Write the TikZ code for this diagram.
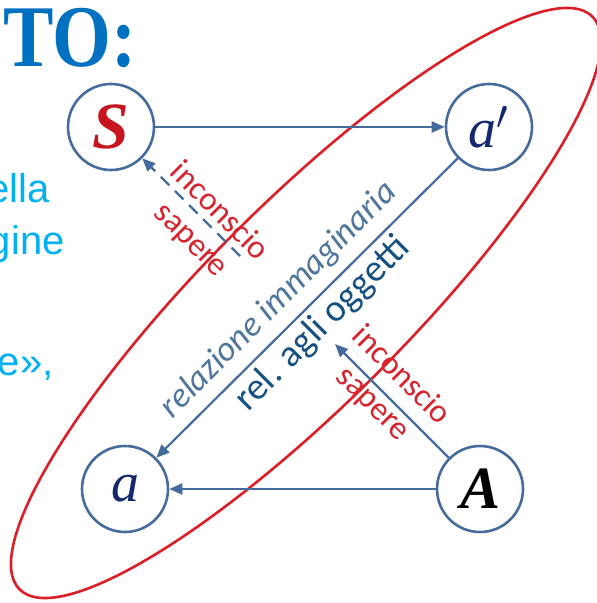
\documentclass[tikz,border=0pt]{standalone}
\usepackage{fontspec}
\usepackage{graphicx}
\setmainfont{Liberation Serif}
\newfontfamily\calib{Carlito}
\newfontfamily\arialf{Liberation Sans}
\usetikzlibrary{arrows.meta}
\definecolor{nodeblue}{RGB}{68,107,155}
\definecolor{ellred}{RGB}{220,30,38}
\definecolor{titleblue}{RGB}{0,112,192}
\definecolor{cyantext}{RGB}{0,176,240}
\definecolor{relgray}{RGB}{80,118,155}
\definecolor{relnavy}{RGB}{22,80,128}
\definecolor{labred}{RGB}{215,35,45}
\definecolor{anavy}{RGB}{20,40,110}
\definecolor{sred}{RGB}{200,20,30}
\begin{document}
\begin{tikzpicture}[x=0.5pt,y=-0.5pt,
  vert/.style={circle,draw=nodeblue,line width=1.3pt,minimum size=43pt,inner sep=0pt},
  conn/.style={draw=nodeblue,line width=1.1pt,-{Triangle[length=6.5pt,width=5.5pt]}},
  redlab/.style={text=labred,font=\calib\fontsize{16.5}{20}\selectfont,align=center,rotate=-45,inner sep=0pt},
  lefttxt/.style={text=cyantext,font=\arialf\fontsize{20}{24}\selectfont,anchor=base east,inner sep=0pt}]
\useasboundingbox (0,0) rectangle (597,603);
\clip (0,0) rectangle (597,603);
% red ellipse
\draw[ellred,line width=1.3pt,rotate around={45:(306,303)}] (306,303) ellipse [x radius=405, y radius=100];
% title fragment
\node[anchor=base west,inner sep=0pt,text=titleblue,font=\fontsize{44}{48}\selectfont\bfseries] (title) at (3,67) {\scalebox{0.86}[1]{TO:}};
% left text fragments
\node[lefttxt] (t1) at (50,203) {ella};
\node[lefttxt] (t2) at (65,255) {gine};
\node[lefttxt] (t3) at (54,375) {e»,};
% circles
\node[vert] (S) at (111,127) {\fontsize{33}{36}\selectfont\color{sred}\bfseries\itshape S};
\node[vert] (ap) at (489,127) {\fontsize{28}{32}\selectfont\color{anavy}\itshape a$'$};
\node[vert] (a) at (125,489) {\fontsize{28}{32}\selectfont\color{anavy}\itshape a};
\node[vert] (A) at (480,489) {\fontsize{30}{34}\selectfont\color{black}\bfseries\itshape A};
% connectors
\coordinate (dstart) at (240,256);
\coordinate (Aend) at (335,344);
\draw[conn] (S) -- (ap);
\draw[conn] (A) -- (a);
\draw[conn] (ap.225) -- (a.45);
\draw[conn] (A.135) -- (Aend);
\draw[conn,dash pattern=on 6pt off 4pt] (dstart) -- (S.315);
% labels
\node[text=relgray,font=\calib\itshape\fontsize{17.5}{20}\selectfont,rotate=45,inner sep=0pt] (rimm) at (279,300) {relazione immaginaria};
\node[text=relnavy,font=\calib\fontsize{19}{22}\selectfont,rotate=45,inner sep=0pt] (rogg) at (323,324) {rel. agli oggetti};
\node[redlab] (l1) at (205,226) {inconscio\\sapere};
\node[redlab] (l2) at (387,390) {inconscio\\sapere};
\end{tikzpicture}
\end{document}
